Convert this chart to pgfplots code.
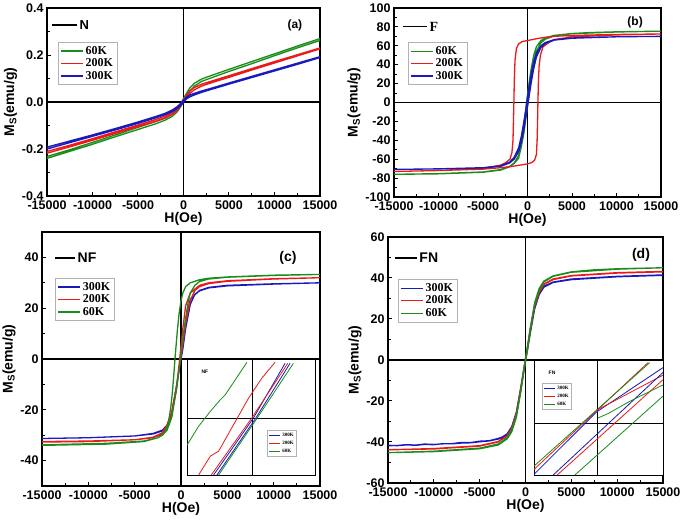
\documentclass[border=0pt]{standalone}
\usepackage{pgfplots}
\pgfplotsset{compat=1.18}
\usepackage{fontspec}
\setmainfont{Liberation Sans}
\newfontfamily\tnr{Liberation Serif}
\definecolor{cg}{RGB}{25,140,25}
\definecolor{cr}{RGB}{235,25,25}
\definecolor{cb}{RGB}{25,25,190}

\pgfplotsset{
  panel/.style={
    scale only axis, anchor=south west,
    xmin=-15000, xmax=15000,
    xtick={-15000,-10000,-5000,0,5000,10000,15000},
    minor x tick num=1, minor y tick num=1,
    scaled ticks=false, tick pos=left, tick align=inside,
    axis line style={line width=1.5pt},
    tick style={black, line width=1pt},
    major tick length=4pt, minor tick length=3pt,
    ticklabel style={font=\bfseries\fontsize{12.5}{14}\selectfont},
    xticklabel style={yshift=-1pt},
    /pgf/number format/assume math mode=true,
    /pgf/number format/1000 sep={},
    xlabel={H(Oe)}, ylabel={M\textsubscript{S}(emu/g)},
    label style={font=\bfseries\fontsize{14}{16}\selectfont},
    xlabel style={yshift=4pt},
    ylabel style={yshift=-2pt},
    legend style={draw=gray!60, line width=0.8pt, anchor=north west,
      font=\tnr\bfseries\fontsize{12}{13}\selectfont,
      inner sep=2pt, row sep=-1pt, cells={anchor=west}},
    legend image code/.code={\draw[#1, line width=1.3pt] (0pt,0pt) -- (22pt,0pt);},
    every axis plot/.append style={line width=1.3pt, line join=round},
  },
  inset/.style={
    scale only axis, anchor=south west,
    xmin=0, xmax=100, ymin=0, ymax=100, ticks=none,
    axis background/.style={fill=white},
    axis line style={line width=1pt},
    legend style={draw=gray!60, line width=0.5pt, anchor=north west,
      font=\tnr\bfseries\fontsize{5}{5.5}\selectfont,
      inner sep=1pt, row sep=-1pt, cells={anchor=west}},
    legend image code/.code={\draw[#1, line width=1pt] (0pt,0pt) -- (11pt,0pt);},
    every axis plot/.append style={line width=0.8pt, line join=round},
  },
}

\begin{document}
\begin{tikzpicture}
\useasboundingbox (0,0) rectangle (685pt,530pt);

% ---------------- (a) N
\begin{axis}[panel, at={(47pt,334pt)}, width=273pt, height=188pt,
  ymin=-0.4, ymax=0.4, ytick={-0.4,-0.2,0,0.2,0.4},
  yticklabel style={/pgf/number format/.cd, fixed, fixed zerofill, precision=1},
  legend style={at={(0.04,0.82)}}]
\draw[line width=1.3pt] (axis cs:0,-0.4) -- (axis cs:0,0.4);
\draw[line width=1.3pt] (axis cs:-15000,0) -- (axis cs:15000,0);
\addplot[cg] coordinates {(15000,0.270)(12500,0.238)(10000,0.205)(7500,0.172)(5000,0.139)(3000,0.112)(2000,0.098)(1200,0.080)(700,0.060)(300,0.035)(0,0.015)(-300,-0.008)(-700,-0.030)(-1200,-0.050)(-2000,-0.068)(-3000,-0.082)(-5000,-0.108)(-7500,-0.140)(-10000,-0.172)(-12500,-0.203)(-15000,-0.232)
 (-15000,-0.240)(-12500,-0.210)(-10000,-0.180)(-7500,-0.148)(-5000,-0.117)(-3000,-0.092)(-2000,-0.077)(-1200,-0.060)(-700,-0.042)(-300,-0.020)(0,0.002)(300,0.022)(700,0.045)(1200,0.068)(2000,0.088)(3000,0.102)(5000,0.130)(7500,0.163)(10000,0.197)(12500,0.230)(15000,0.262)};
\addlegendentry{60K}
\addplot[cr] coordinates {(15000,0.230)(12500,0.201)(10000,0.172)(7500,0.142)(5000,0.112)(3000,0.088)(2000,0.076)(1200,0.062)(700,0.048)(300,0.028)(0,0.010)(-300,-0.008)(-700,-0.026)(-1200,-0.043)(-2000,-0.060)(-3000,-0.074)(-5000,-0.098)(-7500,-0.127)(-10000,-0.156)(-12500,-0.184)(-15000,-0.210)
 (-15000,-0.218)(-12500,-0.191)(-10000,-0.163)(-7500,-0.134)(-5000,-0.105)(-3000,-0.082)(-2000,-0.068)(-1200,-0.052)(-700,-0.036)(-300,-0.016)(0,0.002)(300,0.018)(700,0.036)(1200,0.052)(2000,0.068)(3000,0.081)(5000,0.105)(7500,0.136)(10000,0.166)(12500,0.196)(15000,0.226)};
\addlegendentry{200K}
\addplot[cb] coordinates {(15000,0.193)(12500,0.165)(10000,0.137)(7500,0.109)(5000,0.081)(3000,0.058)(2000,0.047)(1200,0.037)(700,0.030)(300,0.020)(0,0.008)(-300,-0.006)(-700,-0.020)(-1200,-0.033)(-2000,-0.048)(-3000,-0.061)(-5000,-0.085)(-7500,-0.113)(-10000,-0.140)(-12500,-0.166)(-15000,-0.192)
 (-15000,-0.200)(-12500,-0.173)(-10000,-0.146)(-7500,-0.119)(-5000,-0.091)(-3000,-0.067)(-2000,-0.054)(-1200,-0.040)(-700,-0.028)(-300,-0.014)(0,0.000)(300,0.012)(700,0.022)(1200,0.030)(2000,0.041)(3000,0.053)(5000,0.076)(7500,0.104)(10000,0.132)(12500,0.160)(15000,0.189)};
\addlegendentry{300K}
\draw[line width=1.2pt] (axis description cs:0.018,0.91) -- ++(25pt,0pt)
  node[right, inner sep=2pt, font=\bfseries\fontsize{13}{14}\selectfont] {N};
\node[font=\bfseries\fontsize{12}{13}\selectfont] at (axis description cs:0.908,0.91) {(a)};
\end{axis}

% ---------------- (b) F
\begin{axis}[panel, at={(394pt,333pt)}, width=267pt, height=189pt,
  ymin=-100, ymax=100, ytick={-100,-80,-60,-40,-20,0,20,40,60,80,100},
  legend style={at={(0.052,0.82)}}]
\draw[line width=1.3pt] (axis cs:0,-100) -- (axis cs:0,100);
\draw[line width=1.3pt] (axis cs:-15000,0) -- (axis cs:15000,0);
\addplot[cg] coordinates {(15000,75.5)(10000,74.8)(7000,74)(5000,73)(3000,71)(2000,68.5)(1500,65.5)(1000,59)(700,50)(400,35)(200,22)(0,8)(-200,-8)(-400,-22)(-700,-42)(-1000,-56)(-1500,-64)(-2000,-67.5)(-3000,-71)(-5000,-73.5)(-10000,-75.3)(-15000,-76)
 (-15000,-76)(-10000,-75.5)(-5000,-73.8)(-3000,-71.5)(-2000,-68)(-1500,-64.5)(-1000,-59)(-700,-47)(-400,-32)(-200,-18)(0,-4)(200,10)(400,25)(700,42)(1000,54)(1500,63)(2000,67)(3000,70.5)(5000,72.8)(10000,74.6)(15000,75.5)};
\addlegendentry{60K}
\addplot[cr] coordinates {(15000,72.5)(10000,72)(5000,71)(3000,70)(2000,69)(1000,67.5)(0,65.5)(-600,64.5)(-1000,62)(-1250,57)(-1400,45)(-1480,25)(-1530,0)(-1580,-20)(-1630,-40)(-1750,-53)(-1970,-60)(-2500,-64)(-3100,-66.5)(-4000,-68)(-5000,-69.5)(-10000,-72)(-15000,-73)
 (-15000,-73)(-10000,-72)(-5000,-70.5)(-3000,-69)(-2000,-68)(-1000,-66.5)(0,-65)(500,-63.5)(800,-61)(1000,-55)(1080,-40)(1130,-20)(1170,0)(1220,20)(1300,38)(1450,50)(1740,59)(2500,64)(3000,66.5)(5000,69.5)(10000,71.5)(15000,72.5)};
\addlegendentry{200K}
\addplot[cb] coordinates {(15000,70)(10000,69.5)(7000,69)(5000,68.3)(3000,66.5)(2000,63.5)(1500,60)(1000,52)(700,43)(400,30)(200,18)(0,6)(-200,-8)(-400,-20)(-700,-36)(-1000,-48)(-1500,-58)(-2000,-63)(-3000,-67)(-5000,-69)(-10000,-70.2)(-15000,-70.8)
 (-15000,-70.8)(-10000,-70.3)(-5000,-69.2)(-3000,-67.5)(-2000,-64)(-1500,-60)(-1000,-52)(-700,-42)(-400,-28)(-200,-16)(0,-4)(200,8)(400,20)(700,36)(1000,48)(1500,58)(2000,62.5)(3000,66)(5000,68)(10000,69.5)(15000,70)};
\addlegendentry{300K}
\draw[line width=1.2pt] (axis description cs:0.034,0.90) -- ++(24pt,0pt)
  node[right, inner sep=2pt, font=\tnr\bfseries\fontsize{14}{15}\selectfont] {F};
\node[font=\bfseries\fontsize{12}{13}\selectfont] at (axis description cs:0.903,0.926) {(b)};
\end{axis}

% ---------------- (c) NF
\begin{axis}[panel, at={(42pt,44pt)}, width=278pt, height=254pt,
  ymin=-50, ymax=50, ytick={-40,-20,0,20,40},
  legend style={at={(0.047,0.819)}}]
\draw[line width=1.3pt] (axis cs:0,-50) -- (axis cs:0,50);
\draw[line width=1.3pt] (axis cs:-15000,0) -- (axis cs:15000,0);
\addplot[cb] coordinates {(15000,30)(10000,29.6)(5000,29)(3000,28.2)(2000,27)(1000,23.5)(500,15)(200,6)(0,1)(-200,-4)(-500,-12)(-1000,-21.5)(-1500,-26.5)(-2000,-28.3)(-3000,-29.5)(-5000,-30.3)(-10000,-31)(-15000,-31.3)
 (-15000,-31.3)(-10000,-31)(-5000,-30.3)(-3000,-29.3)(-2000,-28)(-1500,-26)(-1000,-21)(-500,-11)(-200,-3.5)(0,0)(200,4)(500,12)(1000,21.5)(1500,25.5)(2000,26.8)(3000,28)(5000,28.8)(10000,29.5)(15000,30)};
\addlegendentry{300K}
\addplot[cr] coordinates {(15000,32)(10000,31.6)(5000,30.8)(3000,30)(2000,29)(1000,26)(500,21)(200,12)(0,5)(-200,-2)(-500,-12)(-1000,-22)(-1500,-27)(-2000,-29.5)(-3000,-31)(-5000,-31.8)(-10000,-32.3)(-15000,-32.5)
 (-15000,-32.7)(-10000,-32.5)(-5000,-31.8)(-3000,-30.8)(-2000,-29)(-1500,-26)(-1000,-21)(-500,-11)(-200,-4)(0,1)(200,6)(500,14)(1000,23)(1500,27)(2000,28.5)(3000,29.7)(5000,30.6)(10000,31.5)(15000,32)};
\addlegendentry{200K}
\addplot[cg] coordinates {(15000,33.3)(10000,33)(5000,32.3)(3000,31.8)(2000,31.2)(1000,30)(500,28.5)(200,26)(0,23)(-200,18)(-400,11)(-650,0)(-900,-12)(-1100,-19)(-1400,-26)(-1800,-29)(-2500,-31)(-4000,-32.3)(-8000,-33.2)(-15000,-33.8)
 (-15000,-34)(-8000,-33.5)(-4000,-32.5)(-2500,-31)(-2000,-30)(-1500,-28)(-1000,-23)(-500,-12)(-200,-4)(0,2)(200,8)(500,16)(800,23)(1000,26)(1500,29)(2000,30.5)(3000,31.5)(5000,32.2)(10000,32.9)(15000,33.3)};
\addlegendentry{60K}
\draw[line width=1.2pt] (axis description cs:0.047,0.898) -- ++(20pt,0pt)
  node[right, inner sep=2pt, font=\bfseries\fontsize{14}{15}\selectfont] {NF};
\node[font=\bfseries\fontsize{14}{15}\selectfont] at (axis description cs:0.885,0.90) {(c)};
\end{axis}

\begin{axis}[inset, at={(187pt,54pt)}, width=128pt, height=116pt,
  legend style={at={(0.625,0.397)}}]
\draw[line width=0.8pt] (axis cs:51.4,0) -- (axis cs:51.4,100);
\draw[line width=0.8pt] (axis cs:0,50) -- (axis cs:100,50);
\addplot[cb] coordinates {(20.8,0.9)(51.9,50)(76.6,97.1)};
\addlegendentry{300K}
\addplot[cr] coordinates {(9.1,0.9)(18.2,17.1)(24.7,21.4)(36.4,44.3)(48.1,67.1)(58.4,84.3)(68.8,98)};
\addlegendentry{200K}
\addplot[cg] coordinates {(0,26.6)(9.1,42.9)(18.2,55.7)(26,65.7)(29.9,70)(37.7,82.9)(46.8,98)};
\addlegendentry{60K}
\addplot[cr, forget plot] coordinates {(19,0.9)(50.6,50)(78.7,97.1)};
\addplot[cb, forget plot] coordinates {(23.4,0.9)(53.8,50)(80.5,97.1)};
\addplot[cg, forget plot] coordinates {(24.7,0.9)(54.5,49.4)(83.1,97.1)};
\node[font=\bfseries\fontsize{5}{6}\selectfont] at (axis description cs:0.14,0.9) {NF};
\end{axis}

% ---------------- (d) FN
\begin{axis}[panel, at={(388pt,47pt)}, width=275pt, height=246pt,
  ymin=-60, ymax=60, ytick={-60,-40,-20,0,20,40,60},
  legend style={at={(0.036,0.829)}}]
\draw[line width=1.3pt] (axis cs:0,-60) -- (axis cs:0,60);
\draw[line width=1.3pt] (axis cs:-15000,0) -- (axis cs:15000,0);
\addplot[cb] coordinates {(15000,41.5)(10000,40.8)(5000,39.5)(3000,38)(2000,36)(1500,33)(1000,26.5)(500,14)(200,5.5)(0,0.5)(-200,-5)(-500,-13)(-1000,-25.5)(-1500,-32.5)(-2000,-36)(-2500,-37.5)(-3000,-38.3)(-4000,-39.4)(-5000,-39.6)(-6000,-40.3)(-7000,-40.2)(-8000,-40.8)(-9000,-40.9)(-10000,-41.2)(-11000,-41.0)(-12000,-41.5)(-13000,-41.3)(-14000,-41.7)(-15000,-41.8)
 (-15000,-41.6)(-14000,-41.8)(-13000,-41.4)(-12000,-41.6)(-11000,-41.2)(-10000,-41.3)(-9000,-40.8)(-8000,-40.9)(-7000,-40.5)(-6000,-40.4)(-5000,-39.9)(-4000,-39.5)(-3000,-38.6)(-2500,-38)(-2000,-36.5)(-1500,-33.5)(-1000,-26.5)(-500,-14)(-200,-5.5)(0,-0.5)(200,4.5)(500,12.5)(1000,25)(1500,32)(2000,35.5)(3000,37.8)(5000,39.2)(10000,40.6)(15000,41.3)};
\addlegendentry{300K}
\addplot[cr] coordinates {(15000,43.2)(10000,42.6)(5000,41.2)(3000,39.5)(2000,37)(1500,33.6)(1000,27)(500,14.5)(200,5.8)(0,0.5)(-200,-5)(-500,-13.5)(-1000,-26)(-1500,-33)(-2000,-37)(-3000,-39.8)(-5000,-41.8)(-10000,-43.2)(-15000,-43.8)
 (-15000,-43.8)(-10000,-43.4)(-5000,-42)(-3000,-40)(-2000,-37.2)(-1500,-33.8)(-1000,-27)(-500,-14.5)(-200,-5.8)(0,-0.5)(200,5)(500,13.5)(1000,26)(1500,33)(2000,36.8)(3000,39.2)(5000,41)(10000,42.4)(15000,43)};
\addlegendentry{200K}
\addplot[cg] coordinates {(15000,45)(10000,44.5)(7500,44)(5000,43)(3000,41)(2000,38.5)(1500,35)(1000,28)(500,15)(200,6)(0,0.5)(-200,-5)(-500,-14)(-1000,-27)(-1500,-34)(-2000,-38)(-3000,-41)(-5000,-43)(-10000,-44.5)(-15000,-45.2)
 (-15000,-45.2)(-10000,-44.7)(-5000,-43.3)(-3000,-41.5)(-2000,-38.5)(-1500,-35)(-1000,-28)(-500,-15)(-200,-6)(0,-0.5)(200,5)(500,14)(1000,27)(1500,34)(2000,38)(3000,40.8)(5000,42.8)(10000,44.3)(15000,45)};
\addlegendentry{60K}
\draw[line width=1.2pt] (axis description cs:0.025,0.915) -- ++(22pt,0pt)
  node[right, inner sep=2pt, font=\bfseries\fontsize{14}{15}\selectfont] {FN};
\node[font=\bfseries\fontsize{14}{15}\selectfont] at (axis description cs:0.92,0.927) {(d)};
\end{axis}

\begin{axis}[inset, at={(534pt,55pt)}, width=129pt, height=114pt,
  legend style={at={(0.062,0.807)}}]
\draw[line width=0.8pt] (axis cs:49.2,0) -- (axis cs:49.2,100);
\draw[line width=0.8pt] (axis cs:0,45.2) -- (axis cs:100,45.2);
\addplot[cb] coordinates {(0,0.6)(48.5,55.3)(100,94.2)};
\addlegendentry{300K}
\addplot[cr] coordinates {(0,4.9)(88.4,98.6)};
\addlegendentry{200K}
\addplot[cg] coordinates {(0,7.8)(89.7,98.6)};
\addlegendentry{60K}
\addplot[cr, forget plot] coordinates {(48.5,56.8)(100,87.6)};
\addplot[cb, forget plot] coordinates {(14.9,0)(100,89.9)};
\addplot[cr, forget plot] coordinates {(18,0)(100,83.6)};
\addplot[cg, forget plot] coordinates {(49.7,50.1)(57.5,53.9)(74.2,64.6)(100,79)};
\addplot[cg, forget plot] coordinates {(31.7,0)(100,69.2)};
\node[font=\bfseries\fontsize{5}{6}\selectfont] at (axis description cs:0.14,0.895) {FN};
\end{axis}
\end{tikzpicture}
\end{document}
